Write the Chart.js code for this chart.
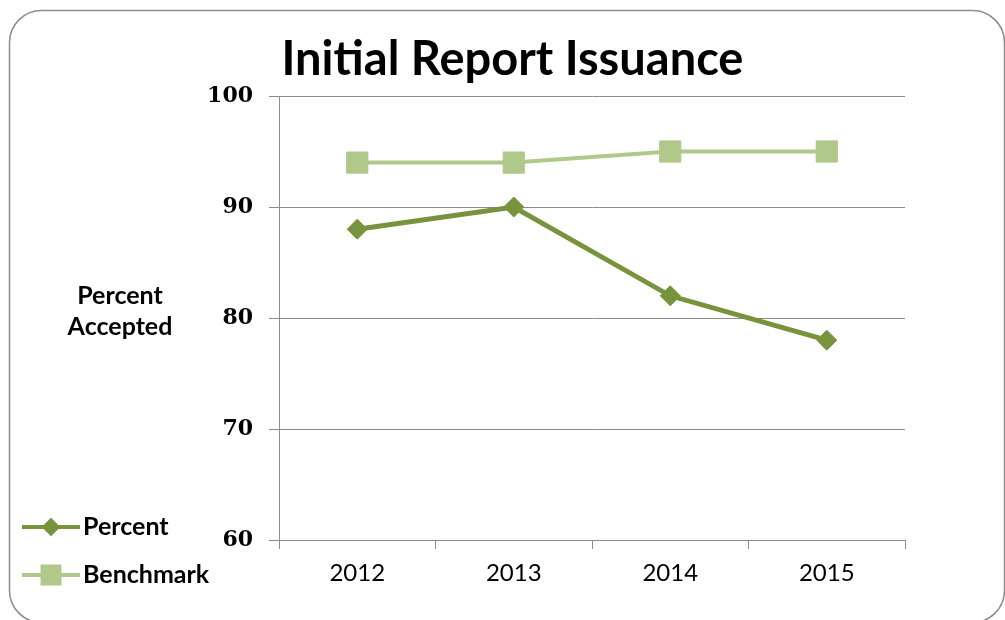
<!DOCTYPE html>
<html><head><meta charset="utf-8">
<script src="https://cdn.jsdelivr.net/npm/chart.js@4.4.1/dist/chart.umd.min.js"></script>
<style>html,body{margin:0;padding:0;background:#fff}#wrap{width:1005px;height:620px}</style>
</head><body><div id="wrap"><canvas id="c" width="1005" height="620"></canvas></div>
<script>
// ---- data ----
const categories = ['2012', '2013', '2014', '2015'];
const percentValues = [88, 90, 82, 78];
const benchmarkValues = [94, 94, 95, 95];
const seriesNames = ['Percent', 'Benchmark'];
const titleText = 'Initial Report Issuance';
const yAxisTitleLines = ['Percent', 'Accepted'];
const yMin = 60, yMax = 100, yStep = 10;

// ---- styles ----
const PERCENT_COLOR = '#77933C';
const BENCH_COLOR = '#B0C98A';
const GRID = '#8c8c8c';

const decor = {
  id: 'decor',
  beforeDraw(chart) {
    const ctx = chart.ctx;
    ctx.save();
    ctx.fillStyle = '#fff';
    ctx.fillRect(0, 0, chart.width, chart.height);
    ctx.strokeStyle = '#8c8c8c';
    ctx.lineWidth = 1.5;
    ctx.beginPath();
    ctx.roundRect(9.5, 10.5, 995, 612, 32);
    ctx.stroke();
    ctx.restore();
  },
  afterDraw(chart) {
    const ctx = chart.ctx;
    ctx.save();
    ctx.fillStyle = '#000';
    ctx.font = 'bold 25px Lato';
    ctx.textAlign = 'center';
    ctx.textBaseline = 'middle';
    yAxisTitleLines.forEach((t, i) => ctx.fillText(t, 120, 296 + 31 * i));
    // legend
    chart.data.datasets.forEach((ds, i) => {
      const y = 527 + 48 * i;
      ctx.strokeStyle = ds.borderColor;
      ctx.lineWidth = 4;
      ctx.beginPath();
      ctx.moveTo(22, y); ctx.lineTo(80, y);
      ctx.stroke();
      ctx.fillStyle = ds.pointBackgroundColor;
      ctx.strokeStyle = ds.pointBackgroundColor;
      Chart.helpers.drawPoint(ctx, {pointStyle: ds.pointStyle, radius: ds.pointStyle === 'rect' ? 12 : 6.5, rotation: 0, borderWidth: 1}, 51, y);
      ctx.fillStyle = '#000';
      ctx.font = 'bold 25px Lato';
      ctx.textAlign = 'left';
      ctx.fillText(ds.label, 83, y);
    });
    ctx.restore();
  }
};

new Chart(document.getElementById('c'), {
  type: 'line',
  data: {
    labels: categories,
    datasets: [
      {
        label: seriesNames[0], data: percentValues,
        borderColor: PERCENT_COLOR, backgroundColor: PERCENT_COLOR,
        pointBackgroundColor: PERCENT_COLOR, pointBorderColor: PERCENT_COLOR,
        borderWidth: 5, pointStyle: 'rectRot', pointRadius: 10, pointBorderWidth: 1,
        tension: 0
      },
      {
        label: seriesNames[1], data: benchmarkValues,
        borderColor: BENCH_COLOR, backgroundColor: BENCH_COLOR,
        pointBackgroundColor: BENCH_COLOR, pointBorderColor: BENCH_COLOR,
        borderWidth: 4, pointStyle: 'rect', pointRadius: 15, pointBorderWidth: 1,
        tension: 0
      }
    ]
  },
  options: {
    responsive: false,
    animation: false,
    devicePixelRatio: 1,
    layout: {padding: {left: 120, right: 100, top: 0, bottom: 0}},
    plugins: {
      legend: {display: false},
      tooltip: {enabled: false},
      title: {
        display: true, text: titleText, color: '#000',
        font: {family: 'Lato', size: 47, weight: 'bold'},
        padding: {top: 32, bottom: 7.6}
      }
    },
    scales: {
      x: {
        offset: true,
        grid: {display: true, drawOnChartArea: false, drawTicks: true, tickLength: 9, color: GRID, offset: true},
        border: {display: true, color: GRID, width: 1},
        ticks: {color: '#000', font: {family: 'Lato', size: 24}, padding: 10},
        afterFit(s) { s.height = 80; }
      },
      y: {
        min: yMin, max: yMax,
        grid: {color: GRID, lineWidth: 1, drawTicks: true, tickLength: 10},
        border: {display: true, color: GRID, width: 1},
        ticks: {stepSize: yStep, color: '#000', font: {family: 'DejaVu Serif', size: 22, weight: 'bold'}, padding: 16},
        afterFit(s) { s.width = 159; }
      }
    }
  },
  plugins: [decor]
});
</script>
</body></html>
